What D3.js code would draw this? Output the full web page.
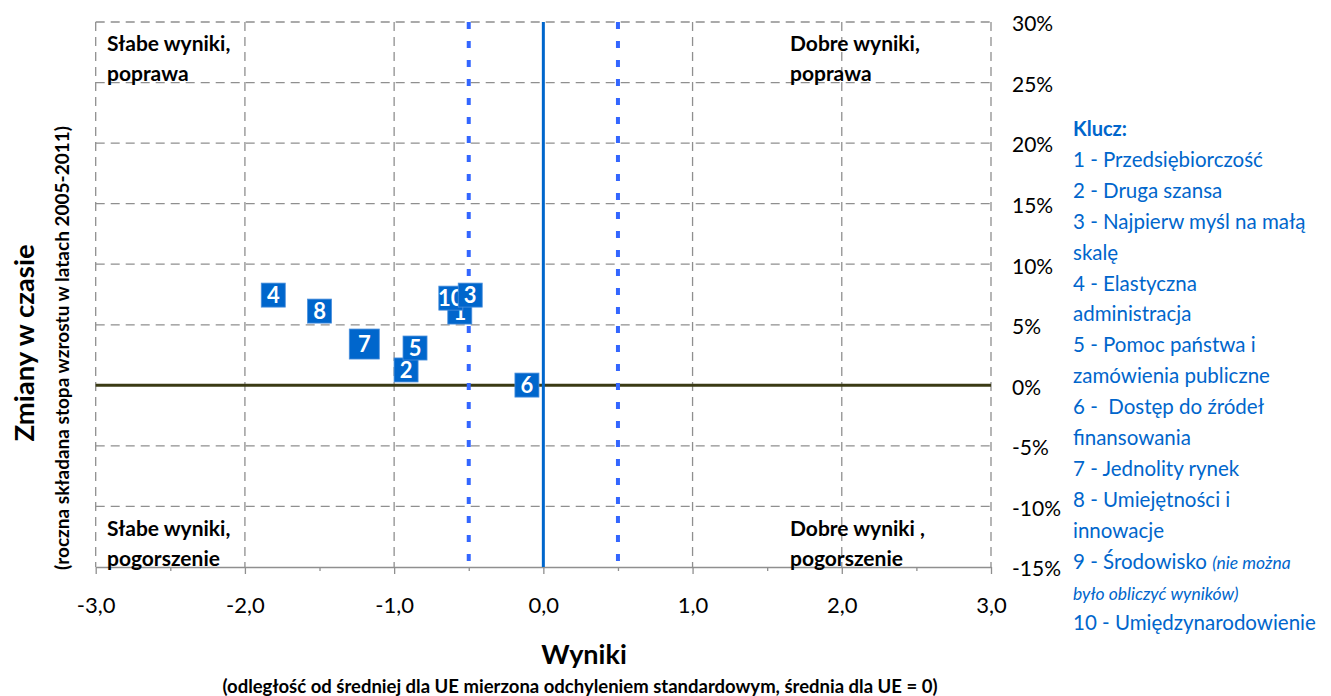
<!DOCTYPE html>
<html><head><meta charset="utf-8">
<script src="https://cdn.jsdelivr.net/npm/d3@7"></script>
<style>body{margin:0;background:#fff} svg{display:block} text{font-family:Lato,"Open Sans",sans-serif}</style>
</head><body><svg id="c" width="1331" height="696"></svg>
<script>
// ---- data ----
const ids    = ["1", "2", "4", "5", "6", "7", "8", "10", "3"];
const perf   = [-0.56, -0.92, -1.81, -0.86, -0.11, -1.20, -1.50, -0.62, -0.49];
const change = [6.05, 1.27, 7.45, 3.08, 0.02, 3.41, 6.13, 7.20, 7.45];
const xTicks = [-3, -2, -1, 0, 1, 2, 3];
const xMinorTicks = [-2.5, -1.5, -0.5, 0.5, 1.5, 2.5];
const yTicks = [-15, -10, -5, 0, 5, 10, 15, 20, 25, 30];
const refLines = [-0.5, 0.5];
const quadTL = ["Słabe wyniki,", "poprawa"];
const quadTR = ["Dobre wyniki,", "poprawa"];
const quadBL = ["Słabe wyniki,", "pogorszenie"];
const quadBR = ["Dobre wyniki ,", "pogorszenie"];
const xTitle = "Wyniki";
const xSubtitle = "(odległość od średniej dla UE mierzona odchyleniem standardowym, średnia dla UE = 0)";
const yTitle = "Zmiany w czasie";
const ySubtitle = "(roczna składana stopa wzrostu w latach 2005-2011)";
const legendTitle = "Klucz:";
const legendLines = [
  ["1 - Przedsiębiorczość"], ["2 - Druga szansa"], ["3 - Najpierw myśl na małą"], ["skalę"],
  ["4 - Elastyczna"], ["administracja"], ["5 - Pomoc państwa i"], ["zamówienia publiczne"],
  ["6 -  Dostęp do źródeł"], ["finansowania"], ["7 - Jednolity rynek"], ["8 - Umiejętności i"],
  ["innowacje"], ["9 - Środowisko ", "(nie można"], ["", "było obliczyć wyników)"], ["10 - Umiędzynarodowienie"]
];

// ---- drawing ----
const svg = d3.select("#c");
const x = d3.scaleLinear().domain([-3, 3]).range([95.7, 991]);
const y = d3.scaleLinear().domain([-15, 30]).range([567, 22]);
const gridCol = "#8f8f8f";

// grid
svg.append("g").selectAll("line").data(yTicks.filter(d => d !== -15 && d !== 0)).join("line")
  .attr("x1", x(-3)).attr("x2", x(3)).attr("y1", d => y(d)).attr("y2", d => y(d))
  .attr("stroke", gridCol).attr("stroke-width", 1.3).attr("stroke-dasharray", "9,6");
svg.append("g").selectAll("line").data(xTicks.filter(d => d !== 0)).join("line")
  .attr("y1", y(30)).attr("y2", y(-15)).attr("x1", d => x(d)).attr("x2", d => x(d))
  .attr("stroke", gridCol).attr("stroke-width", 1.3).attr("stroke-dasharray", "9,6");

// x axis
const fmt = d => d.toFixed(1).replace(".", ",");
const xAxis = svg.append("g").attr("transform", `translate(0,${y(-15)})`)
  .call(d3.axisBottom(x).tickValues(xTicks).tickFormat(fmt).tickSize(7).tickSizeOuter(0));
xAxis.select(".domain").attr("stroke", gridCol).attr("stroke-width", 1.3);
xAxis.selectAll(".tick line").attr("stroke", gridCol).attr("stroke-width", 1.3);
xAxis.selectAll(".tick text").attr("y", 46).attr("dy", 0).attr("font-size", 22).attr("fill", "#000");
const xMinor = svg.append("g").attr("transform", `translate(0,${y(-15)})`)
  .call(d3.axisBottom(x).tickValues(xMinorTicks).tickFormat("").tickSize(4).tickSizeOuter(0));
xMinor.select(".domain").remove();
xMinor.selectAll(".tick line").attr("stroke", gridCol).attr("stroke-width", 1.3);

// right y axis labels
const yAxis = svg.append("g").attr("transform", `translate(${x(3)},0)`)
  .call(d3.axisRight(y).tickValues(yTicks).tickFormat(d => d + "%").tickSize(0).tickPadding(21));
yAxis.select(".domain").remove();
yAxis.selectAll(".tick text").attr("font-size", 21).attr("fill", "#000").attr("dy", "0.42em");

// reference lines
svg.append("line").attr("x1", x(-3)).attr("x2", x(3)).attr("y1", y(0)).attr("y2", y(0))
  .attr("stroke", "#3a3a14").attr("stroke-width", 3);
svg.append("g").selectAll("line").data(refLines).join("line")
  .attr("x1", d => x(d)).attr("x2", d => x(d)).attr("y1", y(30)).attr("y2", y(-15))
  .attr("stroke", "#3366ff").attr("stroke-width", 4).attr("stroke-dasharray", "7,12");
svg.append("line").attr("x1", x(0)).attr("x2", x(0)).attr("y1", y(30)).attr("y2", y(-15))
  .attr("stroke", "#0066cc").attr("stroke-width", 3);

// quadrant labels
function quad(lines, xx, yy) {
  const t = svg.append("text").attr("font-size", 21).attr("font-weight", "bold").attr("fill", "#000");
  lines.forEach((s, i) => t.append("tspan").attr("x", xx).attr("y", yy + i * 29.5).text(s));
}
quad(quadTL, 107, 51);
quad(quadTR, 790, 51);
quad(quadBL, 107, 536);
quad(quadBR, 790, 536);

// markers
const pts = ids.map((id, i) => ({id, px: perf[i], py: change[i]}));
const mk = svg.append("g").selectAll("g").data(pts).join("g")
  .attr("transform", d => `translate(${x(d.px)},${y(d.py)})`);
mk.append("rect")
  .attr("x", d => d.id === "7" ? -15 : -12).attr("y", d => d.id === "7" ? -15 : -12)
  .attr("width", d => d.id === "7" ? 30 : 24).attr("height", d => d.id === "7" ? 30 : 24)
  .attr("fill", "#0066cc").attr("stroke", "#4a8fdc").attr("stroke-width", 0.8);
mk.append("text").attr("text-anchor", "middle").attr("dy", "0.36em")
  .attr("font-size", 22).attr("font-weight", "bold").attr("fill", "#fff").text(d => d.id);

// axis titles
svg.append("text").attr("x", 584).attr("y", 664).attr("text-anchor", "middle")
  .attr("font-size", 27).attr("font-weight", "bold").text(xTitle);
svg.append("text").attr("x", 580).attr("y", 693).attr("text-anchor", "middle")
  .attr("font-size", 18.5).attr("font-weight", "bold").text(xSubtitle);
svg.append("text").attr("transform", "translate(34,343) rotate(-90)").attr("text-anchor", "middle")
  .attr("font-size", 27.5).attr("font-weight", "bold").text(yTitle);
svg.append("text").attr("transform", "translate(69,348) rotate(-90)").attr("text-anchor", "middle")
  .attr("font-size", 19).attr("font-weight", "bold").text(ySubtitle);

// legend
const lg = svg.append("g").attr("fill", "#0066cc");
lg.append("text").attr("x", 1073).attr("y", 136).attr("font-size", 20).attr("font-weight", "bold").text(legendTitle);
legendLines.forEach((parts, i) => {
  const t = lg.append("text").attr("x", 1073).attr("y", 136 + (i + 1) * 30.9).attr("font-size", 20.5)
    .attr("xml:space", "preserve").style("white-space", "pre");
  t.append("tspan").text(parts[0]);
  if (parts[1]) t.append("tspan").attr("font-style", "italic").attr("font-size", 17.5).text(parts[1]);
});
</script></body></html>
